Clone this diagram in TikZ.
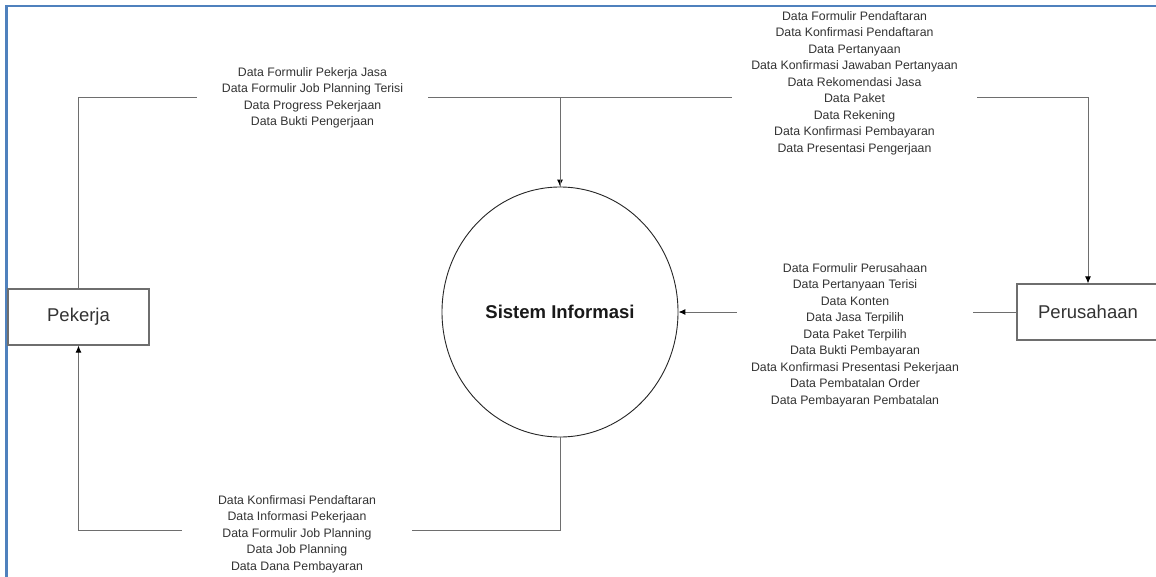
\documentclass[tikz,border=0pt]{standalone}
\usepackage{fontspec}
\setmainfont{Liberation Sans}
\usetikzlibrary{arrows.meta,shapes.geometric,positioning}
\definecolor{framblue}{HTML}{4F81BD}
\definecolor{txtgray}{HTML}{333333}
\definecolor{linegray}{HTML}{6E6E6E}
\tikzset{
  entity/.style={draw=linegray, line width=1.1pt, rectangle, minimum height=56pt, inner sep=0pt, font=\fontsize{18.5}{22}\selectfont, text=txtgray},
  process/.style={draw=black!85, line width=0.9pt, ellipse, minimum width=236pt, minimum height=250pt, inner sep=0pt, font=\bfseries\fontsize{18.5}{22}\selectfont, text=black!90},
  conn/.style={draw=linegray, line width=1pt, -{Latex[length=7pt,width=6pt,color=black]}},
  flowlabel/.style={fill=white, inner sep=0pt, align=center, text=txtgray, font=\fontsize{12.3}{16.5}\selectfont}
}
\begin{document}
\begin{tikzpicture}[x=1pt,y=-1pt]
\useasboundingbox (0,0) rectangle (1156,576);
\clip (0,0) rectangle (1156,576);
\fill[white] (0,0) rectangle (1156,576);
% frame
\draw[framblue, line width=2.2pt] (6.5,590) -- (6.5,5.8) -- (1170,5.8);
% nodes
\node[process] (sys) at (560,312) {Sistem Informasi};
\node[entity, minimum width=141pt] (pek) at (78.5,317) {Pekerja};
\node[entity, minimum width=142pt] (per) at (1088,312) {Perusahaan};
\coordinate (ytop) at (0,97);
\coordinate (ybot) at (0,530);
% connectors
\draw[conn] (pek.north) |- (ytop -| sys.north) -- (sys.north);
\draw[conn] (sys.north) -- (ytop -| sys.north) -| (per.north);
\draw[conn] (per.west) -- (sys.east);
\draw[conn] (sys.south) |- (ybot -| pek.south) -- (pek.south);
% labels
\node[flowlabel, minimum width=231pt] (l1) at (312.5,98) {Data Formulir Pekerja Jasa\\Data Formulir Job Planning Terisi\\Data Progress Pekerjaan\\Data Bukti Pengerjaan};
\node[flowlabel, minimum width=245pt] (l2) at (854.5,83) {Data Formulir Pendaftaran\\Data Konfirmasi Pendaftaran\\Data Pertanyaan\\Data Konfirmasi Jawaban Pertanyaan\\Data Rekomendasi Jasa\\Data Paket\\Data Rekening\\Data Konfirmasi Pembayaran\\Data Presentasi Pengerjaan};
\node[flowlabel, minimum width=236pt] (l3) at (855,335) {Data Formulir Perusahaan\\Data Pertanyaan Terisi\\Data Konten\\Data Jasa Terpilih\\Data Paket Terpilih\\Data Bukti Pembayaran\\Data Konfirmasi Presentasi Pekerjaan\\Data Pembatalan Order\\Data Pembayaran Pembatalan};
\node[flowlabel, minimum width=230pt] (l4) at (297,534) {Data Konfirmasi Pendaftaran\\Data Informasi Pekerjaan\\Data Formulir Job Planning\\Data Job Planning\\Data Dana Pembayaran};
\end{tikzpicture}
\end{document}
